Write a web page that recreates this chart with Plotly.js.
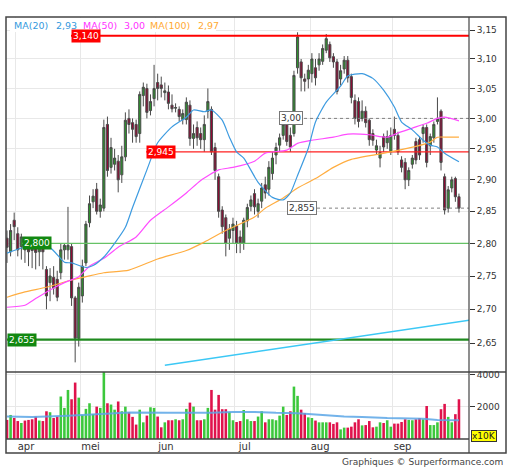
<!DOCTYPE html>
<html><head><meta charset="utf-8">
<script src="https://cdn.plot.ly/plotly-3.0.1.min.js"></script>
<style>html,body{margin:0;padding:0;background:#fff}#chart{width:512px;height:470px}</style>
</head><body><div id="chart"></div>
<script>
// ---- data ----
const openP  = [2.808,2.787,2.836,2.815,2.795,2.805,2.800,2.798,2.800,2.787,2.800,2.760,2.740,2.748,2.745,2.755,2.790,2.790,2.795,2.717,2.657,2.720,2.770,2.832,2.865,2.885,2.850,2.855,2.990,2.920,2.925,2.930,2.908,2.937,3.000,2.993,2.990,2.975,3.038,3.050,3.013,3.033,3.060,3.056,3.043,3.044,3.022,3.017,3.015,2.998,2.998,3.022,2.967,2.985,2.975,2.965,3.012,3.015,2.952,2.905,2.852,2.840,2.808,2.820,2.827,2.810,2.800,2.835,2.858,2.878,2.850,2.866,2.892,2.885,2.910,2.940,2.956,2.972,2.990,2.972,2.975,3.085,3.095,3.066,3.066,3.075,3.085,3.090,3.096,3.115,3.125,3.104,3.095,3.066,3.083,3.098,3.070,3.030,3.028,3.000,3.012,2.997,2.975,2.948,2.935,2.970,2.960,2.945,2.982,2.972,2.932,2.928,2.900,2.925,2.962,2.965,2.975,2.985,2.955,2.968,2.995,3.012,2.905,2.855,2.887,2.902,2.873];
const highP  = [2.820,2.830,2.848,2.825,2.815,2.810,2.805,2.805,2.807,2.805,2.805,2.765,2.762,2.765,2.758,2.800,2.800,2.857,2.800,2.720,2.740,2.775,2.835,2.875,2.885,2.895,2.870,2.998,3.003,2.968,2.950,2.940,2.955,3.010,3.015,3.000,2.998,3.045,3.060,3.058,3.040,3.090,3.075,3.070,3.060,3.055,3.040,3.025,3.020,3.015,3.035,3.030,2.990,2.995,2.985,3.005,3.050,3.020,2.960,2.910,2.858,2.845,2.830,2.840,2.835,2.820,2.840,2.862,2.875,2.885,2.870,2.895,2.905,2.930,2.945,2.960,2.975,2.998,3.000,2.985,3.080,3.146,3.100,3.075,3.090,3.110,3.100,3.110,3.125,3.143,3.130,3.110,3.100,3.090,3.105,3.105,3.075,3.040,3.035,3.030,3.020,3.000,2.982,2.965,2.955,2.975,2.980,2.985,3.003,2.978,2.938,2.935,2.920,2.940,2.968,2.970,2.990,2.990,2.975,2.995,3.035,3.015,2.910,2.890,2.905,2.905,2.878];
const lowP   = [2.770,2.780,2.805,2.780,2.775,2.770,2.765,2.762,2.760,2.765,2.760,2.700,2.712,2.722,2.712,2.745,2.775,2.775,2.705,2.622,2.645,2.710,2.765,2.825,2.855,2.845,2.840,2.850,2.905,2.910,2.915,2.880,2.895,2.930,2.975,2.960,2.960,2.960,3.020,3.000,3.005,3.020,3.030,3.035,3.030,3.015,3.010,3.010,2.995,2.990,2.990,2.955,2.950,2.955,2.950,2.945,3.000,2.940,2.900,2.840,2.815,2.780,2.790,2.800,2.785,2.785,2.790,2.825,2.850,2.845,2.840,2.855,2.870,2.875,2.900,2.925,2.945,2.965,2.955,2.945,2.970,3.075,3.045,3.045,3.050,3.060,3.055,3.080,3.090,3.110,3.095,3.085,3.040,3.055,3.075,3.060,3.025,2.990,2.985,2.995,2.985,2.955,2.955,2.940,2.920,2.945,2.950,2.940,2.965,2.940,2.912,2.885,2.890,2.918,2.925,2.932,2.960,2.920,2.940,2.960,2.990,2.915,2.845,2.848,2.880,2.865,2.848];
const closeP = [2.794,2.820,2.826,2.790,2.810,2.790,2.787,2.789,2.786,2.797,2.787,2.720,2.750,2.732,2.718,2.790,2.797,2.797,2.717,2.657,2.733,2.765,2.830,2.862,2.874,2.850,2.860,2.985,2.915,2.952,2.935,2.900,2.937,2.997,2.990,2.982,2.970,3.040,3.052,3.010,3.028,3.050,3.050,3.050,3.046,3.025,3.016,3.018,3.003,3.008,3.027,2.967,2.975,2.968,2.965,2.990,3.028,2.945,2.915,2.850,2.826,2.800,2.822,2.830,2.800,2.800,2.836,2.856,2.868,2.857,2.862,2.887,2.879,2.920,2.935,2.952,2.968,2.990,2.962,2.953,3.072,3.138,3.068,3.062,3.081,3.100,3.068,3.100,3.118,3.135,3.102,3.095,3.045,3.080,3.098,3.068,3.035,3.000,2.995,3.012,2.993,2.965,2.964,2.955,2.944,2.953,2.970,2.972,2.972,2.945,2.920,2.900,2.915,2.935,2.932,2.940,2.985,2.928,2.970,2.990,3.000,2.928,2.852,2.884,2.900,2.873,2.855];
const volume = [1190,1500,1310,1120,1000,1150,1190,1230,1400,1150,1120,1730,1670,1310,1400,2650,1940,3060,2480,3520,2580,1500,1880,2230,1550,2020,1940,4200,2230,2150,1830,2340,1730,2020,1670,1380,900,1830,1040,1460,1980,1940,1400,730,1040,1170,1170,1230,1170,1230,1880,2270,2020,1170,1170,1230,1940,3060,1830,2750,1860,1860,1690,1170,1060,1120,1810,1230,1120,
                1120,1400,1730,1040,1230,1230,1170,1460,2020,1500,1730,3270,2690,1830,1610,1350,1310,1150,1040,1040,1040,1040,940,1040,600,710,710,770,1040,1230,850,870,1120,730,770,1040,1000,1170,770,960,960,1060,1230,1190,1170,1230,1310,1230,2060,870,870,1040,1860,2190,1380,1040,1550,2480];

const ma20Idx  = [0,5,12,16,18,22,24,27,30,33,35,39,42,46,50,52,55,57,60,62,64,66,70,74,77,79,81,84,86,89,93,95,99,102,105,108,110,113,116,118,120,122,126];
const ma20Val  = [2.785,2.794,2.793,2.771,2.770,2.763,2.766,2.779,2.800,2.825,2.856,2.916,2.960,2.986,3.002,3.014,3.011,3.014,2.997,2.969,2.945,2.935,2.896,2.872,2.868,2.879,2.907,2.951,2.994,3.027,3.054,3.071,3.075,3.067,3.047,3.019,2.994,2.981,2.964,2.956,2.953,2.943,2.929];
const ma50Idx  = [0,5,8,12,16,20,23,27,31,36,40,45,50,54,59,63,69,72,78,81,85,91,95,101,106,109,113,117,120,122,126];
const ma50Val  = [2.703,2.706,2.716,2.729,2.740,2.749,2.765,2.777,2.794,2.810,2.836,2.857,2.879,2.899,2.916,2.920,2.930,2.943,2.948,2.959,2.964,2.969,2.974,2.973,2.969,2.976,2.984,2.992,3.000,3.002,2.996];
const ma100Idx = [0,5,11,18,22,27,34,42,50,55,61,69,72,77,81,86,91,96,107,114,118,120,123,126];
const ma100Val = [2.718,2.726,2.733,2.744,2.749,2.755,2.759,2.776,2.789,2.802,2.820,2.841,2.855,2.871,2.887,2.902,2.920,2.933,2.945,2.954,2.961,2.969,2.969,2.969];
const volMaIdx = [0,7,17,26,34,45,57,63,69,75,81,88,94,99,106,116,120,126];
const volMaVal = [1400,1380,1450,1550,1650,1640,1640,1690,1690,1630,1600,1500,1400,1380,1310,1270,1190,1170];
const trendIdx = [44,129];
const trendVal = [2.618,2.684];

const monthStarts = [2.5,20.5,41.5,63.5,84.5,107.5];
const monthLabels = ['apr','mei','jun','jul','aug','sep'];
const priceTicks = [2.65,2.70,2.75,2.80,2.85,2.90,2.95,3.00,3.05,3.10,3.15];
const priceMinor = [2.625,2.675,2.725,2.775,2.825,2.875,2.925,2.975,3.025,3.075,3.125];
const volTicks = [2000,4000];
const levelVals = [3.14,2.945,2.80,2.655];
const refVals = [3.00,2.855];

// ---- layout helpers ----
const W = 512, H = 470;
const X0 = 6, X1 = 469;              // plot px
const r0 = -0.28, r1 = 128.8;        // index range
const px2idx = p => r0 + (p - X0) * (r1 - r0) / (X1 - X0);
const PX = p => p / W, PY = p => 1 - p / H;
const fmt = (v, d) => v.toFixed(d).replace('.', ',');
const FONT = 'DejaVu Sans, Verdana, sans-serif';
const idx = closeP.map((_, i) => i);
const up = closeP.map((c, i) => c >= openP[i]);

const traces = [];
traces.push({type:'candlestick', x: idx, open: openP, high: highP, low: lowP, close: closeP,
  xaxis:'x', yaxis:'y', whiskerwidth:0, hoverinfo:'skip', showlegend:false,
  increasing:{fillcolor:'#2f8f2f', line:{color:'#4a4a4a', width:1}},
  decreasing:{fillcolor:'#8c0c34', line:{color:'#4a4a4a', width:1}}});

// level lines
const levelStyle = [
  {start:71, color:'#ff0000', width:2, label:'#ff0000'},
  {start:146, color:'#ff2020', width:1.2, label:'#ff0000'},
  {start:22, color:'#66c266', width:1.2, label:'#118811'},
  {start:7, color:'#1f8a1f', width:2.2, label:'#118811'}
];
levelVals.forEach((v, k) => traces.push({type:'scatter', mode:'lines', x:[px2idx(levelStyle[k].start), r1], y:[v, v],
  xaxis:'x', yaxis:'y', line:{color:levelStyle[k].color, width:levelStyle[k].width}, hoverinfo:'skip', showlegend:false}));
const refStyle = [{start:279, end:304}, {start:287, end:317}];
refVals.forEach((v, k) => traces.push({type:'scatter', mode:'lines', x:[px2idx(refStyle[k].end), r1], y:[v, v],
  xaxis:'x', yaxis:'y', line:{color:'#808080', width:1, dash:'dot'}, hoverinfo:'skip', showlegend:false}));

traces.push({type:'scatter', mode:'lines', x: trendIdx, y: trendVal, xaxis:'x', yaxis:'y',
  line:{color:'#3cc8f5', width:1.5}, hoverinfo:'skip', showlegend:false});
traces.push({type:'scatter', mode:'lines', x: ma100Idx, y: ma100Val, xaxis:'x', yaxis:'y',
  line:{color:'#ffad40', width:1.2, shape:'spline', smoothing:0.6}, hoverinfo:'skip', showlegend:false});
traces.push({type:'scatter', mode:'lines', x: ma50Idx, y: ma50Val, xaxis:'x', yaxis:'y',
  line:{color:'#ff4cff', width:1.2, shape:'spline', smoothing:0.6}, hoverinfo:'skip', showlegend:false});
traces.push({type:'scatter', mode:'lines', x: ma20Idx, y: ma20Val, xaxis:'x', yaxis:'y',
  line:{color:'#3d9be0', width:1.2, shape:'spline', smoothing:0.6}, hoverinfo:'skip', showlegend:false});

traces.push({type:'bar', x: idx, y: volume, xaxis:'x2', yaxis:'y2', width:0.72,
  marker:{color: up.map(u => u ? '#3cc83c' : '#e0124c'), line:{width:0}}, hoverinfo:'skip', showlegend:false});
traces.push({type:'scatter', mode:'lines', x: volMaIdx, y: volMaVal, xaxis:'x2', yaxis:'y2',
  line:{color:'#5aa6e6', width:2}, opacity:0.85, hoverinfo:'skip', showlegend:false});

const logR = [Math.log10(2.6081), Math.log10(3.1727)];
const grid = '#e8e8e8';
const tickFont = {family: FONT, size: 9, color: '#333'};

const annotations = [];
// legend
const ma20Last = ma20Val[ma20Val.length-1], ma50Last = ma50Val[ma50Val.length-1], ma100Last = ma100Val[ma100Val.length-1];
[[12,'MA(20)','#3399dd'],[54,fmt(ma20Last,2),'#3399dd'],[81,'MA(50)','#ff33ff'],[122,fmt(ma50Last,2),'#ff33ff'],[148,'MA(100)','#ffaa33'],[196,fmt(ma100Last,2),'#ffaa33']]
  .forEach(([p, t, c]) => annotations.push({xref:'paper', yref:'paper', x:PX(p), y:PY(25), xanchor:'left', yanchor:'middle',
    text:t, showarrow:false, font:{family:FONT, size:9.5, color:c}}));
// level labels
const levelTexts = levelVals.map(v => fmt(v, 3));
levelVals.forEach((v, k) => annotations.push({xref:'paper', yref:'y', x:PX(levelStyle[k].start), y:Math.log10(v),
  xanchor:'left', yanchor:'middle', text:levelTexts[k], showarrow:false, bgcolor:levelStyle[k].label, borderpad:1,
  font:{family:FONT, size:9, color:'#fff'}}));
const refTexts = [fmt(refVals[0], 2), fmt(refVals[1], 3)];
refVals.forEach((v, k) => annotations.push({xref:'paper', yref:'y', x:PX(refStyle[k].start), y:Math.log10(v),
  xanchor:'left', yanchor:'middle', text:refTexts[k], showarrow:false, bgcolor:'#fff', bordercolor:'#777', borderwidth:1, borderpad:1,
  font:{family:FONT, size:9, color:'#333'}}));
annotations.push({xref:'paper', yref:'paper', x:PX(471), y:PY(436), xanchor:'left', yanchor:'middle', text:'x10K', showarrow:false,
  bgcolor:'#ffff00', bordercolor:'#333', borderwidth:1, borderpad:0, font:{family:FONT, size:9, color:'#222'}});
annotations.push({xref:'paper', yref:'paper', x:PX(505), y:PY(462), xanchor:'right', yanchor:'middle',
  text:'Graphiques © Surperformance.com', showarrow:false, font:{family:FONT, size:9, color:'#444'}});

const frame = '#444';
const shapes = [
  {type:'rect', xref:'paper', yref:'paper', x0:PX(10), x1:PX(216), y0:PY(32), y1:PY(18), fillcolor:'#fff', line:{width:0}, layer:'above'},
  {type:'rect', xref:'paper', yref:'paper', x0:PX(6), x1:PX(506), y0:PY(453), y1:PY(17), line:{color:frame, width:1.5}},
  {type:'line', xref:'paper', yref:'paper', x0:PX(6), x1:PX(506), y0:PY(372), y1:PY(372), line:{color:frame, width:1.5}},
  {type:'line', xref:'paper', yref:'paper', x0:PX(6), x1:PX(469), y0:PY(439), y1:PY(439), line:{color:frame, width:1.5}},
  {type:'line', xref:'paper', yref:'paper', x0:PX(469), x1:PX(469), y0:PY(453), y1:PY(17), line:{color:frame, width:1.2}}
];

const layout = {
  width: W, height: H, margin:{l:0, r:0, t:0, b:0}, paper_bgcolor:'#fff', plot_bgcolor:'#fff',
  showlegend:false, dragmode:false, bargap:0.3, boxgap:0.15,
  xaxis:{domain:[PX(X0), PX(X1)], range:[r0, r1], anchor:'y', tickmode:'array', tickvals:monthStarts,
    showticklabels:false, ticks:'', showgrid:true, gridcolor:grid, zeroline:false, showline:false,
    rangeslider:{visible:false}, fixedrange:true},
  yaxis:{domain:[PY(372), PY(17)], type:'log', range:logR, side:'right', anchor:'x', tickmode:'array',
    tickvals:priceTicks, ticktext:priceTicks.map(v => fmt(v, 2)), ticks:'outside', ticklen:5, tickcolor:'#333',
    tickfont:tickFont, showgrid:true, gridcolor:grid, zeroline:false, showline:false, fixedrange:true},
  yaxis3:{overlaying:'y', type:'log', range:logR, side:'right', anchor:'x', tickmode:'array', tickvals:priceMinor,
    ticks:'outside', ticklen:3, tickcolor:'#333', showticklabels:false, showgrid:false, zeroline:false, showline:false, fixedrange:true},
  xaxis2:{domain:[PX(X0), PX(X1)], range:[r0, r1], anchor:'y2', tickmode:'array', tickvals:monthStarts, ticktext:monthLabels,
    ticks:'', ticklabelshift:10, tickfont:{family:FONT, size:10, color:'#333'}, showgrid:true, gridcolor:grid,
    zeroline:false, showline:false, fixedrange:true},
  yaxis2:{domain:[PY(439), PY(372)], range:[0, 4180], side:'right', anchor:'x2', tickmode:'array', tickvals:volTicks,
    ticktext:volTicks.map(String), ticks:'outside', ticklen:5, tickcolor:'#333', tickfont:tickFont,
    showgrid:true, gridcolor:grid, zeroline:false, showline:false, fixedrange:true},
  shapes, annotations
};
Plotly.newPlot('chart', traces, layout, {displayModeBar:false, staticPlot:true});
</script></body></html>
